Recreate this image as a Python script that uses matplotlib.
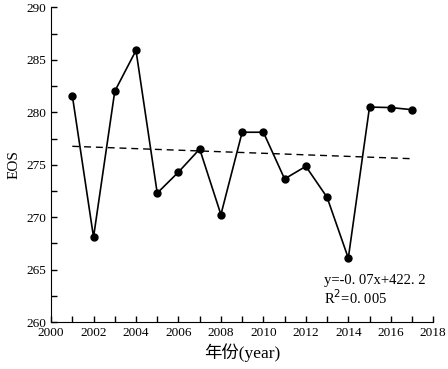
import numpy as np
import matplotlib
matplotlib.use('Agg')
from matplotlib import pyplot as plt
from matplotlib.ticker import MultipleLocator

plt.rcParams['font.family'] = ['Liberation Serif', 'Noto Sans CJK SC']

years = [2001, 2002, 2003, 2004, 2005, 2006, 2007, 2008, 2009,
         2010, 2011, 2012, 2013, 2014, 2015, 2016, 2017]
eos = [281.6, 268.1, 282.0, 285.9, 272.3, 274.3, 276.5, 270.25, 278.1,
       278.1, 273.65, 274.85, 271.9, 266.1, 280.5, 280.45, 280.25]
eq_text = 'y=-0. 07x+422. 2'
r2_text = 'R$^2$=0. 005'

x = np.array(years)
y = np.array(eos)
k, b = np.polyfit(x, y, 1)

fig = plt.figure(figsize=(4.48, 3.69), dpi=100)
ax = fig.add_axes([0.114, 0.127, 0.853, 0.853])

ax.plot(x, y, color='black', lw=1.2, marker='o', ms=5)
ax.plot(x, k * x + b, color='black', lw=1.0, ls=(0, (5, 3.5)))

ax.set_xlim(2000, 2018)
ax.set_ylim(260, 290)
ax.xaxis.set_major_locator(MultipleLocator(2))
ax.xaxis.set_minor_locator(MultipleLocator(1))
ax.yaxis.set_major_locator(MultipleLocator(5))
ax.yaxis.set_minor_locator(MultipleLocator(2.5))
ax.tick_params(which='both', direction='in', labelsize=9.5, width=1, length=4)
for s in ['top', 'right']:
    ax.spines[s].set_visible(False)

ax.set_xlabel('年份(year)', fontsize=12.5, labelpad=3)
ax.set_ylabel('EOS', fontsize=11)

ax.text(2012.85, 264.0, eq_text, fontsize=10.5, va='center')
ax.text(2012.85, 262.3, r2_text, fontsize=10.5, va='center')

plt.savefig('out.png', dpi=100)
